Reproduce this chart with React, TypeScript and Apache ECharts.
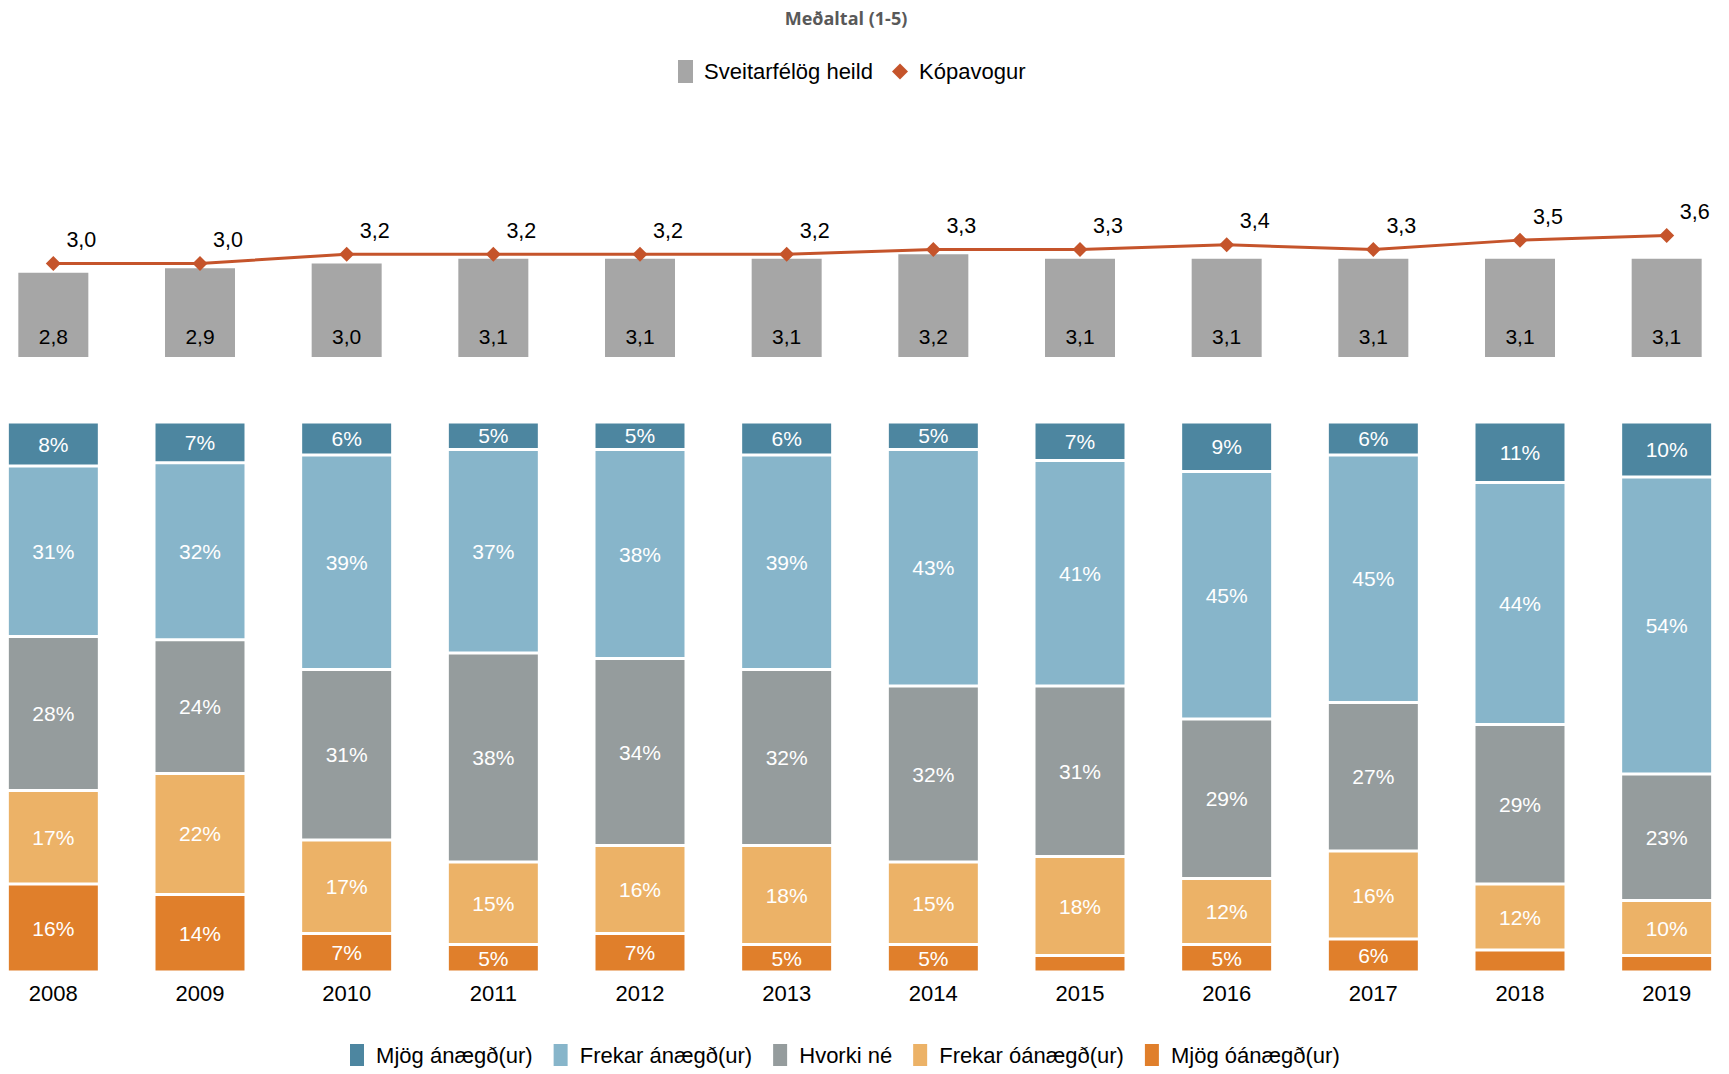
import React, { useEffect, useRef } from "react";
import * as echarts from "echarts";

const years = ["2008", "2009", "2010", "2011", "2012", "2013", "2014", "2015", "2016", "2017", "2018", "2019"];
const sveitarfelog = [2.8, 2.9, 3.0, 3.1, 3.1, 3.1, 3.2, 3.1, 3.1, 3.1, 3.1, 3.1];
const kopavogur = [3.0, 3.0, 3.2, 3.2, 3.2, 3.2, 3.3, 3.3, 3.4, 3.3, 3.5, 3.6];

const mjogAnaegd = [8, 7.4, 6, 5, 5, 6, 5, 7, 9, 6, 11, 10];
const frekarAnaegd = [31, 32.2, 39, 37, 38, 39, 43, 41, 45, 45, 44, 54];
const hvorki = [28, 24.3, 31, 38, 34, 32, 32, 31, 29, 27, 29, 23];
const frekarOanaegd = [17, 22, 17, 15, 16, 18, 15, 18, 12, 16, 12, 10];
const mjogOanaegd = [16, 14.1, 7, 5, 7, 5, 5, 3, 5, 6, 4, 3];

const stackNames = ["Mjög ánægð(ur)", "Frekar ánægð(ur)", "Hvorki né", "Frekar óánægð(ur)", "Mjög óánægð(ur)"];
const stackColors = ["#4D86A0", "#87B5CA", "#959C9D", "#ECB267", "#E07F2B"];

const FONT = "'Liberation Sans', Arial, sans-serif";
const SHIFT = 20; // container starts 20px left of the page

export default function App() {
  const ref = useRef<HTMLDivElement>(null);
  useEffect(() => {
    if (!ref.current) return;
    const chart = echarts.init(ref.current, null, { renderer: "svg" });
    const stackData = [mjogAnaegd, frekarAnaegd, hvorki, frekarOanaegd, mjogOanaegd];
    const order = [4, 3, 2, 1, 0];
    const stackSeries = order.map((i) => ({
      name: stackNames[i],
      type: "bar",
      stack: "s",
      xAxisIndex: 1,
      yAxisIndex: 1,
      barWidth: 92,
      data: stackData[i],
      itemStyle: { color: stackColors[i], borderColor: "#ffffff", borderWidth: 1.5 },
      label: {
        show: true,
        position: "inside",
        color: "#ffffff",
        fontSize: 21,
        fontFamily: FONT,
        formatter: (p: any) => (Math.round(p.value) >= 5 ? Math.round(p.value) + "%" : ""),
      },
    }));

    const padName = (name: string) => " " + name;

    chart.setOption({
      animation: false,
      backgroundColor: "#ffffff",
      graphic: [
        {
          type: "text",
          x: 846 + SHIFT,
          y: 18,
          style: {
            text: "Meðaltal (1-5)",
            fill: "#595959",
            font: "bold 18px 'Open Sans', sans-serif",
            align: "center",
            verticalAlign: "middle",
          },
        },
      ],
      legend: [
        {
          data: ["Sveitarfélög heild"],
          left: 673 + SHIFT,
          top: 55,
          itemWidth: 15,
          itemHeight: 23,
          icon: "rect",
          formatter: padName,
          textStyle: { fontSize: 22, color: "#000", fontFamily: FONT },
          selectedMode: false,
        },
        {
          data: [{ name: "Kópavogur", icon: "diamond" }],
          left: 887 + SHIFT,
          top: 55.5,
          itemWidth: 16,
          itemHeight: 16,
          formatter: padName,
          textStyle: { fontSize: 22, color: "#000", fontFamily: FONT },
          selectedMode: false,
        },
        {
          data: stackNames,
          left: 343 + SHIFT,
          top: 1037,
          itemWidth: 16,
          itemHeight: 24,
          itemGap: 19,
          icon: "rect",
          formatter: padName,
          textStyle: { fontSize: 22, color: "#000", fontFamily: FONT },
          selectedMode: false,
        },
      ],
      grid: [
        { left: 0, right: 0, top: 170, height: 187 },
        { left: 0, right: 0, top: 422, height: 550 },
      ],
      xAxis: [
        { type: "category", gridIndex: 0, data: years, show: false },
        {
          type: "category",
          gridIndex: 1,
          data: years,
          axisLine: { show: false },
          axisTick: { show: false },
          axisLabel: { fontSize: 22, color: "#000", fontFamily: FONT, margin: 10 },
        },
      ],
      yAxis: [
        { type: "value", gridIndex: 0, min: 1, max: 5, show: false },
        { type: "value", gridIndex: 1, min: 0, max: 100, show: false },
      ],
      series: [
        {
          name: "Sveitarfélög heild",
          type: "bar",
          xAxisIndex: 0,
          yAxisIndex: 0,
          barWidth: 70,
          data: sveitarfelog,
          itemStyle: { color: "#A6A6A6" },
          label: {
            show: true,
            position: "insideBottom",
            distance: 10,
            fontSize: 21,
            color: "#000",
            fontFamily: FONT,
            formatter: (p: any) => p.value.toFixed(1).replace(".", ","),
          },
        },
        {
          name: "Kópavogur",
          type: "line",
          xAxisIndex: 0,
          yAxisIndex: 0,
          data: kopavogur,
          symbol: "diamond",
          symbolSize: 15,
          lineStyle: { color: "#C5542B", width: 3 },
          itemStyle: { color: "#C5542B" },
          label: {
            show: true,
            position: "top",
            offset: [28, 0],
            fontSize: 21.5,
            color: "#000",
            fontFamily: FONT,
            formatter: (p: any) => p.value.toFixed(1).replace(".", ","),
          },
        },
        ...stackSeries,
      ],
    });
    return () => chart.dispose();
  }, []);
  return (
    <div
      style={{ position: "fixed", left: 0, top: 0, width: "1729px", height: "1074px", overflow: "hidden", background: "#fff" }}
    >
      <div
        ref={ref}
        style={{ position: "absolute", left: -SHIFT + "px", top: 0, width: 1729 + SHIFT + 11 + "px", height: "1074px" }}
      />
    </div>
  );
}
